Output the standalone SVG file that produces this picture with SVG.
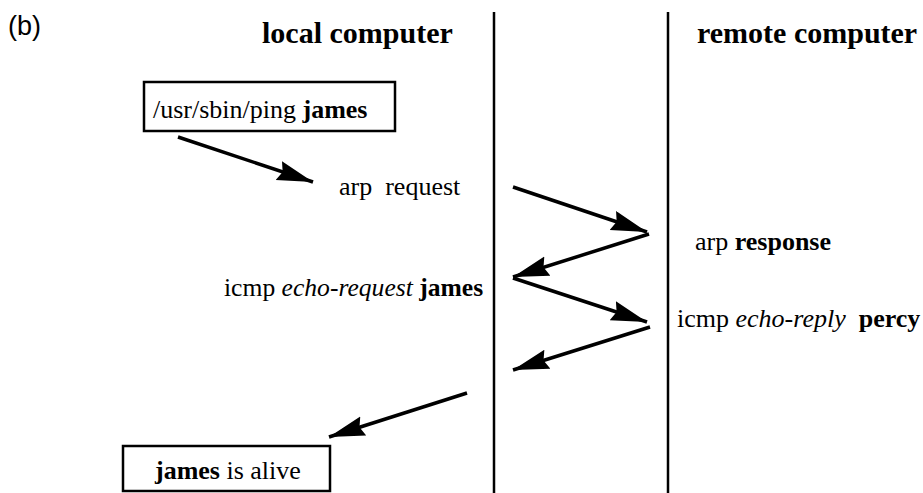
<svg xmlns="http://www.w3.org/2000/svg" width="923" height="493" viewBox="0 0 923 493">
<style>
  .t { font-family: "Liberation Serif", "Times New Roman", serif; font-size: 26px; fill: #000; }
  .h { font-family: "Liberation Serif", "Times New Roman", serif; font-size: 30px; font-weight: bold; fill: #000; }
  .b { font-weight: bold; }
  .i { font-style: italic; }
  .box { fill: #fff; stroke: #000; stroke-width: 2.5; }
  .sep { stroke: #000; stroke-width: 2.5; }
  .arr { stroke: #000; stroke-width: 3.5; fill: none; marker-end: url(#ah); }
</style>
<defs>
  <marker id="ah" markerUnits="userSpaceOnUse" markerWidth="40" markerHeight="24" refX="36" refY="10" orient="auto">
    <polygon points="0,0 36,10 0,20 4,10" fill="#000"/>
  </marker>
</defs>
<rect width="923" height="493" fill="#fff"/>
<text x="8" y="35" font-family="Liberation Sans, Arial, sans-serif" font-size="27">(b)</text>
<text class="h" x="262" y="43">local computer</text>
<text class="h" x="697" y="43">remote computer</text>
<g id="separators">
  <line class="sep" x1="494" y1="12" x2="494" y2="493"/>
  <line class="sep" x1="668" y1="12" x2="668" y2="493"/>
</g>
<g id="ping">
  <rect class="box" x="144" y="82" width="251" height="49"/>
  <text class="t" x="153" y="118">/usr/sbin/ping <tspan class="b">james</tspan></text>
</g>
<g id="arp-request">
  <text class="t" x="339" y="195" xml:space="preserve">arp  request</text>
</g>
<g id="arp-response">
  <text class="t" x="695" y="250">arp <tspan class="b">response</tspan></text>
</g>
<g id="echo-request">
  <text class="t" x="224" y="296" style="font-size:25.6px">icmp <tspan class="i">echo-request</tspan> <tspan class="b">james</tspan></text>
</g>
<g id="echo-reply">
  <text class="t" x="677" y="327" xml:space="preserve">icmp <tspan class="i">echo-reply</tspan>  <tspan class="b">percy</tspan></text>
</g>
<g id="alive">
  <rect class="box" x="123" y="446" width="207" height="45"/>
  <text class="t" x="155" y="479"><tspan class="b">james</tspan> is alive</text>
</g>
<g id="connectors">
  <line class="arr" x1="178" y1="137" x2="313" y2="182"/>
  <line class="arr" x1="513" y1="187" x2="647" y2="232"/>
  <line class="arr" x1="649" y1="234" x2="513" y2="277"/>
  <line class="arr" x1="513" y1="278" x2="647" y2="322"/>
  <line class="arr" x1="650" y1="327" x2="513" y2="370"/>
  <line class="arr" x1="467" y1="393" x2="329" y2="437"/>
</g>
</svg>
